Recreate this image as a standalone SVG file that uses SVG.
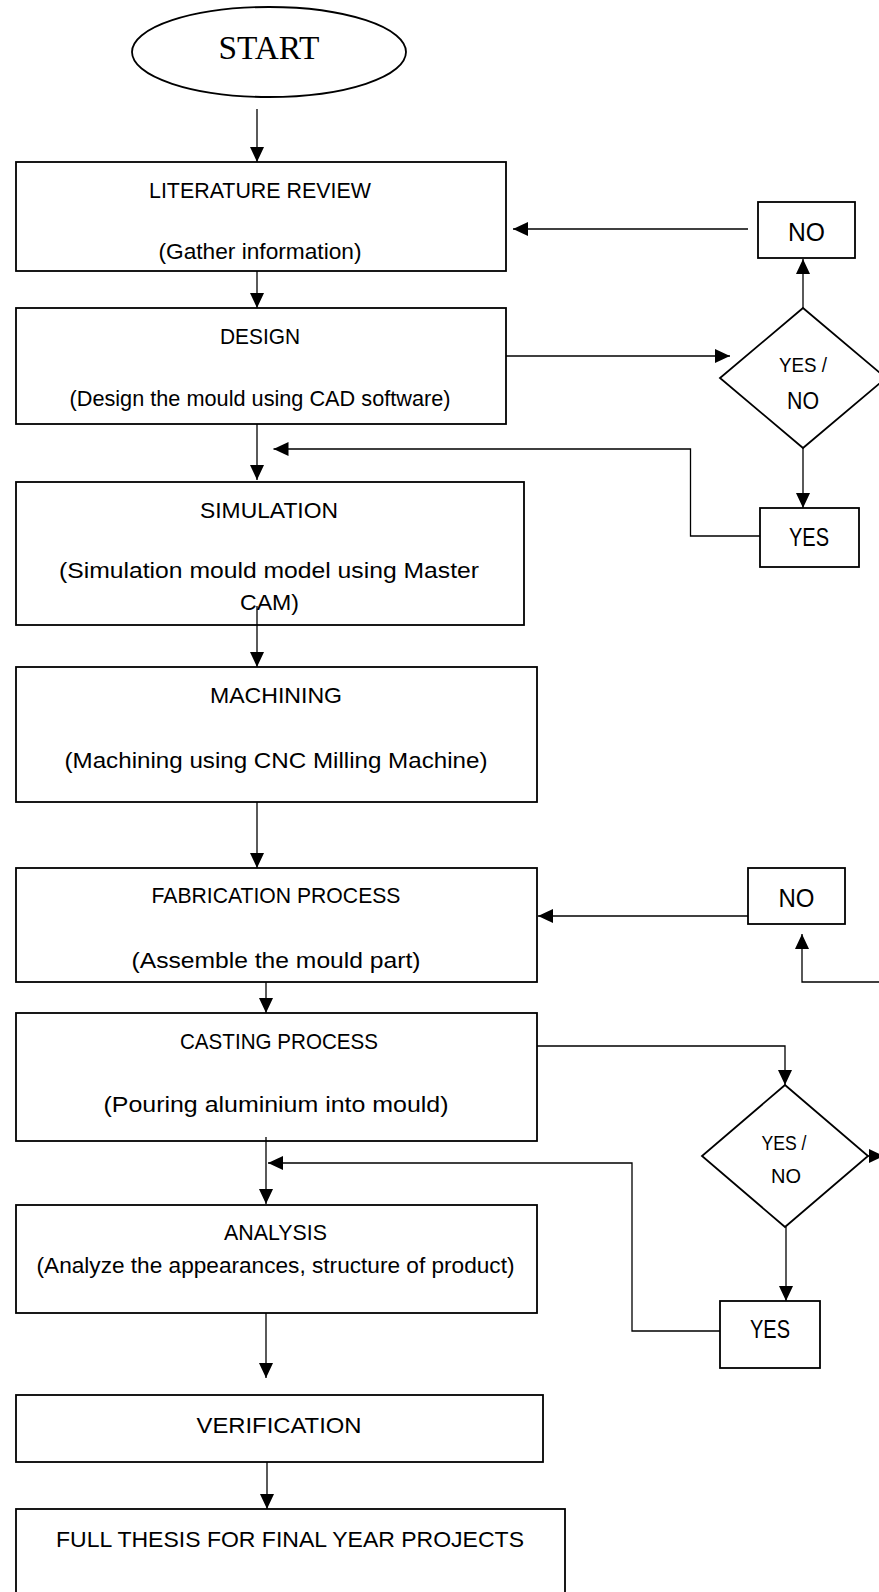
<svg xmlns="http://www.w3.org/2000/svg" width="879" height="1592" viewBox="0 0 879 1592">
<style>
.box{fill:#fff;stroke:#000;stroke-width:1.8}
.con{fill:none;stroke:#000;stroke-width:1.3}
.arr{marker-end:url(#ah)}
text{font-family:"Liberation Sans",Arial,sans-serif;fill:#000;text-anchor:middle}
.t{font-size:22.5px}
.b{font-size:25px}
.d{font-size:21px}
.st{font-family:"Liberation Serif","Times New Roman",serif;font-size:33px}
</style>
<defs>
<marker id="ah" markerUnits="userSpaceOnUse" markerWidth="16" markerHeight="14" refX="15" refY="7" orient="auto">
<path d="M0,0 L15,7 L0,14 z" fill="#000"/>
</marker>
</defs>
<rect width="879" height="1592" fill="#fff"/>
<g id="start">
<ellipse class="box" cx="269" cy="52" rx="137" ry="45"/>
<text class="st" x="269" y="59" textLength="101" lengthAdjust="spacingAndGlyphs">START</text>
</g>
<g id="literature">
<rect class="box" x="16" y="162" width="490" height="109"/>
<text class="t" x="260" y="198" textLength="222" lengthAdjust="spacingAndGlyphs">LITERATURE REVIEW</text>
<text class="t" x="260" y="259" textLength="203" lengthAdjust="spacingAndGlyphs">(Gather information)</text>
</g>
<g id="design">
<rect class="box" x="16" y="308" width="490" height="116"/>
<text class="t" x="260" y="344" textLength="80" lengthAdjust="spacingAndGlyphs">DESIGN</text>
<text class="t" x="260" y="406" textLength="381" lengthAdjust="spacingAndGlyphs">(Design the mould using CAD software)</text>
</g>
<g id="simulation">
<rect class="box" x="16" y="482" width="508" height="143"/>
<text class="t" x="269" y="518" textLength="138" lengthAdjust="spacingAndGlyphs">SIMULATION</text>
<text class="t" x="269" y="578" textLength="420" lengthAdjust="spacingAndGlyphs">(Simulation mould model using Master</text>
<text class="t" x="269.5" y="610" textLength="59" lengthAdjust="spacingAndGlyphs">CAM)</text>
</g>
<g id="machining">
<rect class="box" x="16" y="667" width="521" height="135"/>
<text class="t" x="276" y="703" textLength="132" lengthAdjust="spacingAndGlyphs">MACHINING</text>
<text class="t" x="276" y="768" textLength="423" lengthAdjust="spacingAndGlyphs">(Machining using CNC Milling Machine)</text>
</g>
<g id="fabrication">
<rect class="box" x="16" y="868" width="521" height="114"/>
<text class="t" x="276" y="903" textLength="249" lengthAdjust="spacingAndGlyphs">FABRICATION PROCESS</text>
<text class="t" x="276" y="968" textLength="289" lengthAdjust="spacingAndGlyphs">(Assemble the mould part)</text>
</g>
<g id="casting">
<rect class="box" x="16" y="1013" width="521" height="128"/>
<text class="t" x="279" y="1049" textLength="198" lengthAdjust="spacingAndGlyphs">CASTING PROCESS</text>
<text class="t" x="276" y="1112" textLength="345" lengthAdjust="spacingAndGlyphs">(Pouring aluminium into mould)</text>
</g>
<g id="analysis">
<rect class="box" x="16" y="1205" width="521" height="108"/>
<text class="t" x="275.5" y="1240" textLength="103" lengthAdjust="spacingAndGlyphs">ANALYSIS</text>
<text class="t" x="275.5" y="1273" textLength="478" lengthAdjust="spacingAndGlyphs">(Analyze the appearances, structure of product)</text>
</g>
<g id="verification">
<rect class="box" x="16" y="1395" width="527" height="67"/>
<text class="t" x="279" y="1433" textLength="165" lengthAdjust="spacingAndGlyphs">VERIFICATION</text>
</g>
<g id="thesis">
<rect class="box" x="16" y="1509" width="549" height="100"/>
<text class="t" x="290" y="1547" textLength="468" lengthAdjust="spacingAndGlyphs">FULL THESIS FOR FINAL YEAR PROJECTS</text>
</g>
<g id="no1">
<rect class="box" x="758" y="202" width="97" height="56"/>
<text class="b" x="806.5" y="241" textLength="37" lengthAdjust="spacingAndGlyphs">NO</text>
</g>
<g id="decision1">
<polygon class="box" points="803,308 886,378 803,448 720,378"/>
<text class="d" x="803" y="372" style="font-size:20px" textLength="48" lengthAdjust="spacingAndGlyphs">YES /</text>
<text class="d" x="803" y="409" style="font-size:23px" textLength="32" lengthAdjust="spacingAndGlyphs">NO</text>
</g>
<g id="yes1">
<rect class="box" x="760" y="508" width="99" height="59"/>
<text class="b" x="809" y="546" textLength="40" lengthAdjust="spacingAndGlyphs">YES</text>
</g>
<g id="no2">
<rect class="box" x="748" y="868" width="97" height="56"/>
<text class="b" x="796.5" y="907" textLength="36" lengthAdjust="spacingAndGlyphs">NO</text>
</g>
<g id="decision2">
<polygon class="box" points="785,1085 868,1156 785,1227 702,1156"/>
<text class="d" x="784" y="1150" textLength="45" lengthAdjust="spacingAndGlyphs">YES /</text>
<text class="d" x="786" y="1183" textLength="30" lengthAdjust="spacingAndGlyphs">NO</text>
</g>
<g id="yes2">
<rect class="box" x="720" y="1301" width="100" height="67"/>
<text class="b" x="770" y="1338" textLength="40" lengthAdjust="spacingAndGlyphs">YES</text>
</g>
<g id="connectors">
<line class="con arr" x1="257" y1="109" x2="257" y2="162"/>
<line class="con arr" x1="257" y1="271" x2="257" y2="308"/>
<line class="con arr" x1="257" y1="424" x2="257" y2="480"/>
<line class="con arr" x1="257" y1="606" x2="257" y2="667"/>
<line class="con arr" x1="257" y1="802" x2="257" y2="868"/>
<line class="con arr" x1="266" y1="982" x2="266" y2="1013"/>
<line class="con arr" x1="266" y1="1137" x2="266" y2="1204"/>
<line class="con arr" x1="266" y1="1313" x2="266" y2="1378"/>
<line class="con arr" x1="267" y1="1462" x2="267" y2="1509"/>
<line class="con arr" x1="748" y1="229" x2="513" y2="229"/>
<line class="con arr" x1="506" y1="356" x2="730" y2="356"/>
<line class="con arr" x1="803" y1="308" x2="803" y2="259"/>
<line class="con arr" x1="803" y1="448" x2="803" y2="508"/>
<polyline class="con arr" points="760,536 690.5,536 690.5,449 273.5,449"/>
<line class="con arr" x1="748" y1="916" x2="538" y2="916"/>
<polyline class="con arr" points="890,982 802,982 802,934"/>
<polyline class="con arr" points="537,1046 785,1046 785,1085"/>
<line class="con arr" x1="868" y1="1156" x2="884" y2="1156"/>
<line class="con arr" x1="786" y1="1227" x2="786" y2="1301"/>
<polyline class="con arr" points="720,1331 632,1331 632,1163 268,1163"/>
</g>
</svg>
